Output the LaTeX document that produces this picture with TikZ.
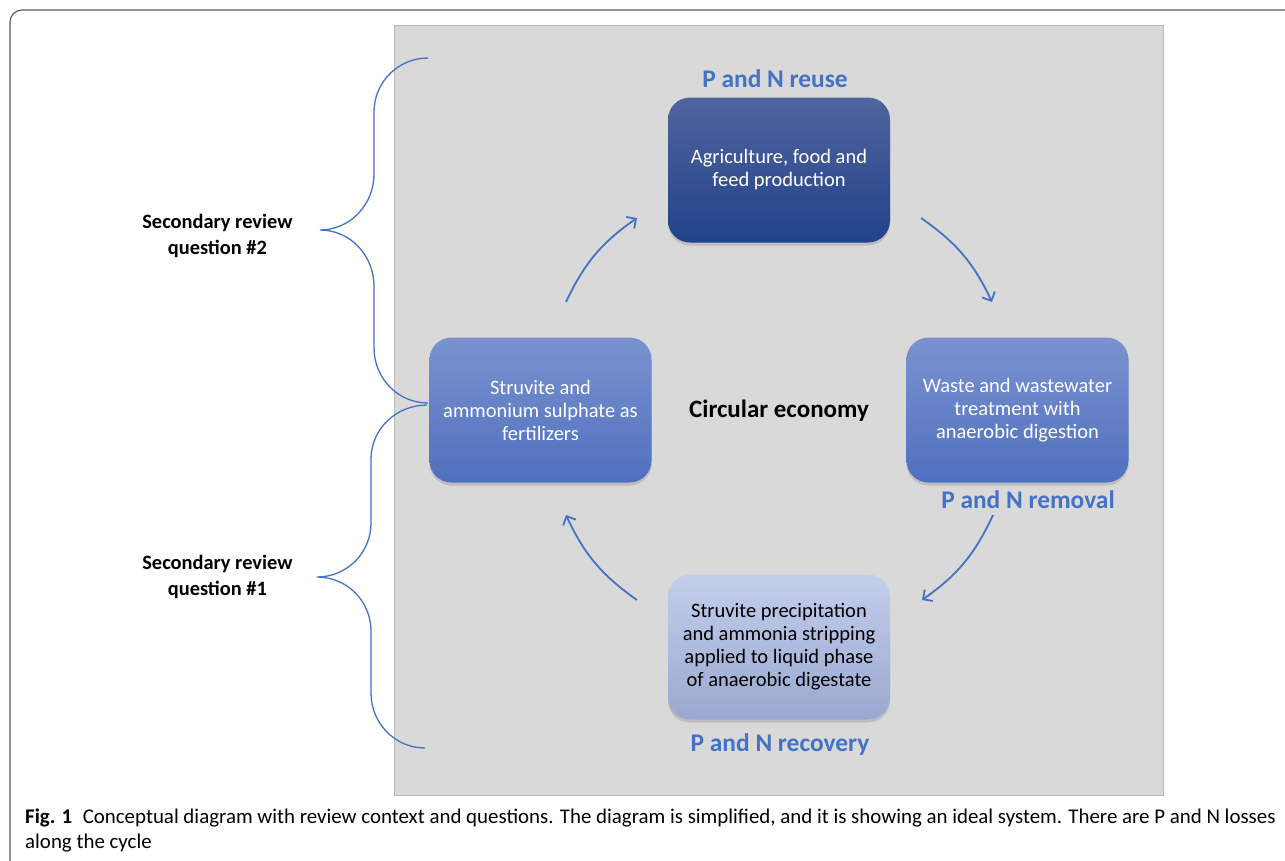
\documentclass[tikz,border=0pt]{standalone}
\usepackage{fontspec}
\setmainfont{Carlito}
\newfontfamily\capfont{Carlito}
\usetikzlibrary{arrows.meta,positioning,shadows}
\definecolor{panelgray}{RGB}{217,217,217}
\definecolor{paneledge}{RGB}{185,185,185}
\definecolor{pnblue}{RGB}{68,114,196}
\definecolor{darktop}{RGB}{80,100,158}
\definecolor{darkbot}{RGB}{33,66,138}
\definecolor{midtop}{RGB}{122,146,208}
\definecolor{midbot}{RGB}{80,112,190}
\definecolor{lighttop}{RGB}{196,206,236}
\definecolor{lightbot}{RGB}{154,168,208}
\definecolor{framegray}{RGB}{90,90,90}
\tikzset{>={Straight Barb[length=7pt,width=14pt]},
  stagebox/.style={rounded corners=22pt, draw=none, minimum width=222pt,
    minimum height=145pt, align=center, font=\fontsize{20.5}{23}\selectfont,
    drop shadow={opacity=0.3,shadow xshift=0pt,shadow yshift=-3pt}},
  darkbox/.style={stagebox, top color=darktop, bottom color=darkbot, text=white},
  midbox/.style={stagebox, top color=midtop, bottom color=midbot, text=white},
  lightbox/.style={stagebox, top color=lighttop, bottom color=lightbot, text=black},
  stagename/.style={text=pnblue, font=\bfseries\fontsize{25.4}{28}\selectfont},
  question/.style={align=center, font=\bfseries\fontsize{20.4}{26}\selectfont},
  brace/.style={draw=pnblue, line width=1.3pt},
  cycle/.style={draw=pnblue, line width=1.8pt, ->, bend left=15}}
\begin{document}
\begin{tikzpicture}[x=1pt,y=1pt]
  \useasboundingbox (0,0) rectangle (1285,-860);
  \clip (0,0) rectangle (1285,-860);
  \draw [framegray, line width=1.2pt, rounded corners=12pt]
    (10,-900) -- (10,-10) -- (1320,-10);
  \filldraw [fill=panelgray, draw=paneledge, line width=0.8pt]
    (394,-25) rectangle (1163,-795);

  \draw [brace] (428,-58) to[out=180,in=90] (374,-112) -- (374,-174)
    to[out=-90,in=0] (320,-230) coordinate (q2tip)
    to[out=0,in=90] (374,-286) -- (374,-348) to[out=-90,in=180] (428,-403);
  \draw [brace] (427,-405) to[out=180,in=90] (371,-459) -- (371,-523)
    to[out=-90,in=0] (317,-577) coordinate (q1tip)
    to[out=0,in=90] (371,-631) -- (371,-693) to[out=-90,in=180] (425,-748);
  \node [question, left=24pt of q2tip, yshift=-6pt] (q2) {Secondary review\\question \#2};
  \node [question, left=21pt of q1tip] (q1) {Secondary review\\question \#1};

  \node [darkbox] (agri) at (779,-170) {Agriculture, food and\\feed production};
  \node [midbox] (fert) at (540.5,-410) {Struvite and\\ammonium sulphate as\\fertilizers};
  \node [midbox] (waste) at (1017.5,-410) {Waste and wastewater\\treatment with\\anaerobic digestion};
  \node [lightbox] (strip) at (779,-647) {Struvite precipitation\\and ammonia stripping\\applied to liquid phase\\of anaerobic digestate};

  \node [stagename] (reuse) at (775,-79) {P and N reuse};
  \node [stagename] (removal) at (1028,-500) {P and N removal};
  \node [stagename] (recovery) at (780,-745) {P and N recovery};
  \node [font=\bfseries\fontsize{25}{28}\selectfont] (circ) at (779,-411) {Circular economy};

  \coordinate (a1) at (921,-218);
  \coordinate (b1) at (992,-302);
  \coordinate (a2) at (993,-515);
  \coordinate (b2) at (922,-600);
  \coordinate (a3) at (637,-600);
  \coordinate (b3) at (566,-515);
  \coordinate (a4) at (566,-302);
  \coordinate (b4) at (637,-218);
  \path
    (a1) edge [cycle] (b1)
    (a2) edge [cycle] (b2)
    (a3) edge [cycle] (b3)
    (a4) edge [cycle] (b4);

  \node [anchor=base west, inner sep=0pt, font=\capfont\fontsize{20.9}{24}\selectfont]
    (cap1) at (25,-823) {\textbf{Fig. 1}\enspace Conceptual diagram with review context and questions. The diagram is simplified, and it is showing an ideal system. There are P and N losses};
  \node [anchor=base west, inner sep=0pt, font=\capfont\fontsize{20.9}{24}\selectfont]
    (cap2) at (25,-848) {along the cycle};
\end{tikzpicture}
\end{document}
